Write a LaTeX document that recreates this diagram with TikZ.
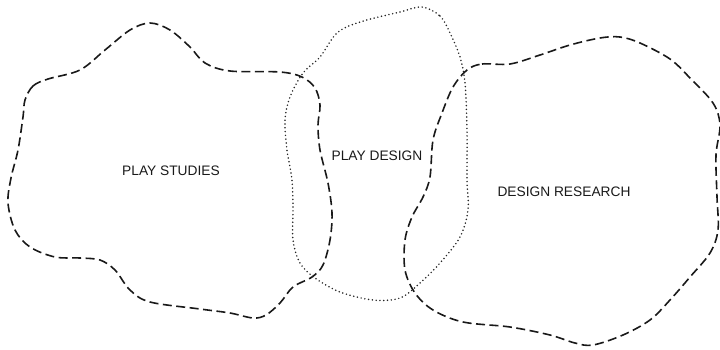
\documentclass[tikz,border=0pt]{standalone}
\usepackage{fontspec}
\setmainfont{Liberation Sans}
\begin{document}
\begin{tikzpicture}[x=1bp,y=-1bp,
  fieldline/.style={line width=1.6bp, dash pattern=on 9bp off 4.5bp, black!90},
  overlapline/.style={line width=1.7bp, line cap=round, dash pattern=on 0bp off 3.8bp, black!85},
  fieldlabel/.style={font=\fontsize{13.8}{16}\selectfont, text=black!90, inner sep=0pt}]
\useasboundingbox (0,0) rectangle (720,349);

% play studies
\draw[fieldline] plot[smooth cycle, tension=0.55] coordinates {
  (25,100) (33,86) (48,79) (80,70) (105,50) (130,30) (150,23) (170,30)
  (190,47) (205,63) (230,71) (280,72) (302,77) (315,88) (320,105)
  (318,125) (320,150) (328,183) (332,213) (330,240) (323,265) (312,277)
  (293,287) (280,303) (266,315) (253,318) (230,313) (200,309) (150,302)
  (130,290) (115,270) (100,260) (80,258) (55,257) (30,247) (15,230)
  (8,203) (11,178) (18,150) (23,117)};

% play design
\draw[overlapline] plot[smooth cycle, tension=0.55] coordinates {
  (422,7) (440,16) (450,33) (460,57) (465,83) (467,130) (467,180)
  (468,210) (460,237) (440,263) (420,283) (400,298) (373,300) (340,292)
  (315,278) (300,263) (293,240) (293,210) (292,180) (287,150) (285,120)
  (290,97) (303,73) (320,57) (337,33) (360,22) (400,12)};

% design research
\draw[fieldline] plot[smooth cycle, tension=0.55] coordinates {
  (467,70) (482,64) (510,64) (540,55) (570,45) (600,38) (620,37)
  (640,43) (670,59) (690,78) (713,103) (720,125) (716,155) (717,197)
  (718,230) (710,253) (690,277) (670,300) (650,320) (623,335) (593,345)
  (575,343) (550,335) (510,327) (463,322) (433,310) (415,293) (405,270)
  (405,240) (412,217) (423,197) (430,177) (433,140) (442,113) (453,87)};

\node[fieldlabel] (studies) at (171,171) {PLAY STUDIES};
\node[fieldlabel] (design) at (377,156) {PLAY DESIGN};
\node[fieldlabel] (research) at (564,192) {DESIGN RESEARCH};
\end{tikzpicture}
\end{document}
